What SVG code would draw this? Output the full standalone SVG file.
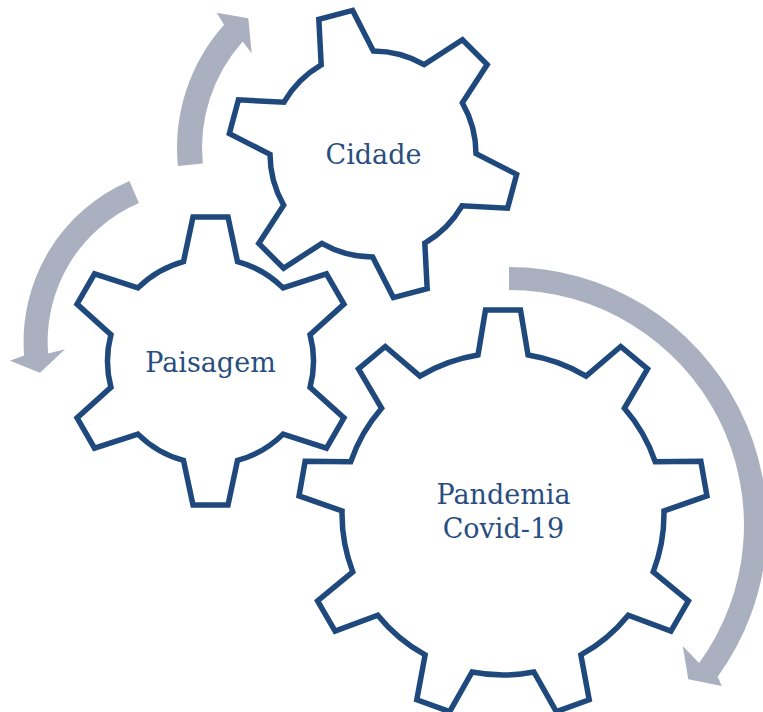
<svg xmlns="http://www.w3.org/2000/svg" xmlns:xlink="http://www.w3.org/1999/xlink" width="763" height="712" viewBox="0 0 763 712">
<style>
.gear{fill:#ffffff;stroke:#1F497D;stroke-width:5.5;stroke-linejoin:miter}
.arrow{fill:#AAB0C0;stroke:none}
.lbl{font-family:"DejaVu Serif","Liberation Serif",serif;font-size:27px;fill:#284E80;text-anchor:middle}
</style>
<defs>
<path id="gear6" d="M -27,-99.4 L -17.5,-144 L 17.5,-144 L 27,-99.4 A 103 103 0 0 1 72.58,-73.08 L 115.96,-87.16 L 133.46,-56.84 L 99.58,-26.32 A 103 103 0 0 1 99.58,26.32 L 133.46,56.84 L 115.96,87.16 L 72.58,73.08 A 103 103 0 0 1 27,99.4 L 17.5,144 L -17.5,144 L -27,99.4 A 103 103 0 0 1 -72.58,73.08 L -115.96,87.16 L -133.46,56.84 L -99.58,26.32 A 103 103 0 0 1 -99.58,-26.32 L -133.46,-56.84 L -115.96,-87.16 L -72.58,-73.08 A 103 103 0 0 1 -27,-99.4 Z"/>
<path id="gear9" d="M -25,-159.05 L -17.5,-204 L 17.5,-204 L 25,-159.05 A 161 161 0 0 1 83.09,-137.91 L 117.72,-167.52 L 144.54,-145.02 L 121.39,-105.77 A 161 161 0 0 1 152.29,-52.23 L 197.86,-52.64 L 203.94,-18.18 L 160.97,-2.99 A 161 161 0 0 1 150.24,57.88 L 185.42,86.84 L 167.92,117.16 L 125.24,101.18 A 161 161 0 0 1 77.89,140.91 L 86.21,185.71 L 53.33,197.69 L 30.91,158.01 A 161 161 0 0 1 -30.91,158.01 L -53.33,197.69 L -86.21,185.71 L -77.89,140.91 A 161 161 0 0 1 -125.24,101.18 L -167.92,117.16 L -185.42,86.84 L -150.24,57.88 A 161 161 0 0 1 -160.97,-2.99 L -203.94,-18.18 L -197.86,-52.64 L -152.29,-52.23 A 161 161 0 0 1 -121.39,-105.77 L -144.54,-145.02 L -117.72,-167.52 L -83.09,-137.91 A 161 161 0 0 1 -25,-159.05 Z"/>
</defs>
<rect width="763" height="712" fill="#ffffff"/>
<g id="connectors">
<path class="arrow" d="M 177.9,166.05 A 185 185 0 0 1 224.1,24.7 L 216.7,12.7 L 248.3,18.3 L 251.7,53.3 L 242.7,41.4 A 160 160 0 0 0 202.8,163.6 Z"/>
<path class="arrow" d="M 129.4,181 A 175 175 0 0 0 24.1,355.4 L 10,360.7 L 40,372.7 L 65,349.3 L 48.1,353.5 A 151 151 0 0 1 138.9,203 Z"/>
<path class="arrow" d="M 509,267 A 258 258 0 0 1 717.7,676.7 L 721.7,686 L 688.3,679.3 L 682.7,646 L 699.1,663.1 A 235 235 0 0 0 509,290 Z"/>
</g>
<g id="node-pandemia">
<use xlink:href="#gear9" class="gear" transform="translate(503,514)"/>
<text class="lbl" x="503.5" y="504">Pandemia</text>
<text class="lbl" x="503.5" y="538">Covid-19</text>
</g>
<g id="node-cidade">
<use xlink:href="#gear6" class="gear" transform="translate(373,154) rotate(-15)"/>
<text class="lbl" x="373.5" y="164">Cidade</text>
</g>
<g id="node-paisagem">
<use xlink:href="#gear6" class="gear" transform="translate(210.5,361)"/>
<text class="lbl" x="210.5" y="372">Paisagem</text>
</g>
</svg>
